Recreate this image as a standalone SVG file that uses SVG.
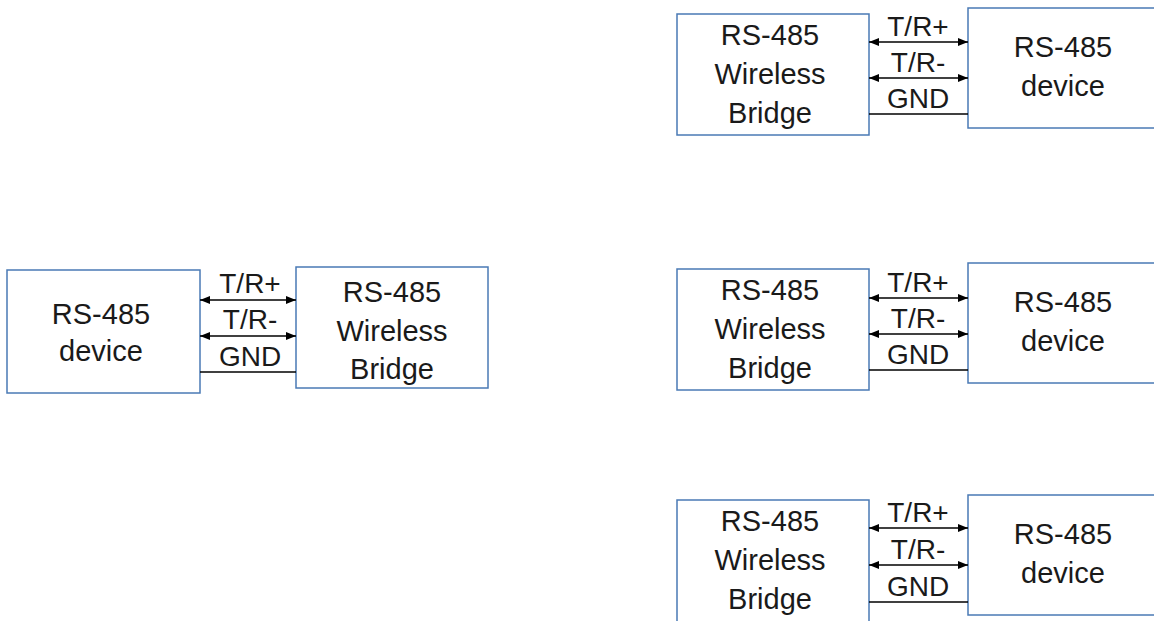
<svg xmlns="http://www.w3.org/2000/svg" width="1154" height="621" viewBox="0 0 1154 621">
<style>
.box{fill:#fff;stroke:#4a7ab5;stroke-width:1.5}
.t{font-family:"Liberation Sans",Arial,sans-serif;font-size:29px;fill:#1a1a1a;text-anchor:middle}
.l{font-family:"Liberation Sans",Arial,sans-serif;font-size:28px;fill:#1a1a1a;text-anchor:middle}
.w{stroke:#000;stroke-width:1.5;fill:none}
.a{marker-start:url(#ah);marker-end:url(#ah)}
</style>
<defs>
<marker id="ah" viewBox="0 0 10 8" refX="10" refY="4" markerWidth="10" markerHeight="8" markerUnits="userSpaceOnUse" orient="auto-start-reverse">
<path d="M0,0 L10,4 L0,8 Z" fill="#000"/>
</marker>
</defs>
<rect width="1154" height="621" fill="#fff"/>

<g id="left-device">
<rect class="box" x="7" y="270" width="193" height="123"/>
<text class="t" x="101" y="324">RS-485</text>
<text class="t" x="101" y="361">device</text>
</g>
<g id="left-bridge">
<rect class="box" x="296" y="267" width="192" height="121"/>
<text class="t" x="392" y="302">RS-485</text>
<text class="t" x="392" y="341">Wireless</text>
<text class="t" x="392" y="379">Bridge</text>
</g>

<g id="tr-bridge">
<rect class="box" x="677" y="14" width="192" height="121"/>
<text class="t" x="770" y="45">RS-485</text>
<text class="t" x="770" y="84">Wireless</text>
<text class="t" x="770" y="123">Bridge</text>
</g>
<g id="tr-device">
<rect class="box" x="968" y="8" width="200" height="120"/>
<text class="t" x="1063" y="57">RS-485</text>
<text class="t" x="1063" y="96">device</text>
</g>

<g id="mr-bridge">
<rect class="box" x="677" y="269" width="192" height="121"/>
<text class="t" x="770" y="300">RS-485</text>
<text class="t" x="770" y="339">Wireless</text>
<text class="t" x="770" y="378">Bridge</text>
</g>
<g id="mr-device">
<rect class="box" x="968" y="263" width="200" height="120"/>
<text class="t" x="1063" y="312">RS-485</text>
<text class="t" x="1063" y="351">device</text>
</g>

<g id="br-bridge">
<rect class="box" x="677" y="500" width="192" height="140"/>
<text class="t" x="770" y="531">RS-485</text>
<text class="t" x="770" y="570">Wireless</text>
<text class="t" x="770" y="609">Bridge</text>
</g>
<g id="br-device">
<rect class="box" x="968" y="495" width="200" height="120"/>
<text class="t" x="1063" y="544">RS-485</text>
<text class="t" x="1063" y="583">device</text>
</g>

<g id="connectors">
<line class="w a" x1="200" y1="300" x2="296" y2="300"/>
<line class="w a" x1="200" y1="336" x2="296" y2="336"/>
<line class="w" x1="200" y1="372" x2="296" y2="372"/>
<text class="l" x="250" y="293">T/R+</text>
<text class="l" x="250" y="329">T/R-</text>
<text class="l" x="250" y="366">GND</text>

<line class="w a" x1="869" y1="42" x2="968" y2="42"/>
<line class="w a" x1="869" y1="78" x2="968" y2="78"/>
<line class="w" x1="869" y1="114" x2="968" y2="114"/>
<text class="l" x="918" y="36">T/R+</text>
<text class="l" x="918" y="72">T/R-</text>
<text class="l" x="918" y="108">GND</text>

<line class="w a" x1="869" y1="298" x2="968" y2="298"/>
<line class="w a" x1="869" y1="334" x2="968" y2="334"/>
<line class="w" x1="869" y1="370" x2="968" y2="370"/>
<text class="l" x="918" y="292">T/R+</text>
<text class="l" x="918" y="328">T/R-</text>
<text class="l" x="918" y="364">GND</text>

<line class="w a" x1="869" y1="528" x2="968" y2="528"/>
<line class="w a" x1="869" y1="565" x2="968" y2="565"/>
<line class="w" x1="869" y1="602" x2="968" y2="602"/>
<text class="l" x="918" y="522">T/R+</text>
<text class="l" x="918" y="559">T/R-</text>
<text class="l" x="918" y="596">GND</text>
</g>
</svg>
